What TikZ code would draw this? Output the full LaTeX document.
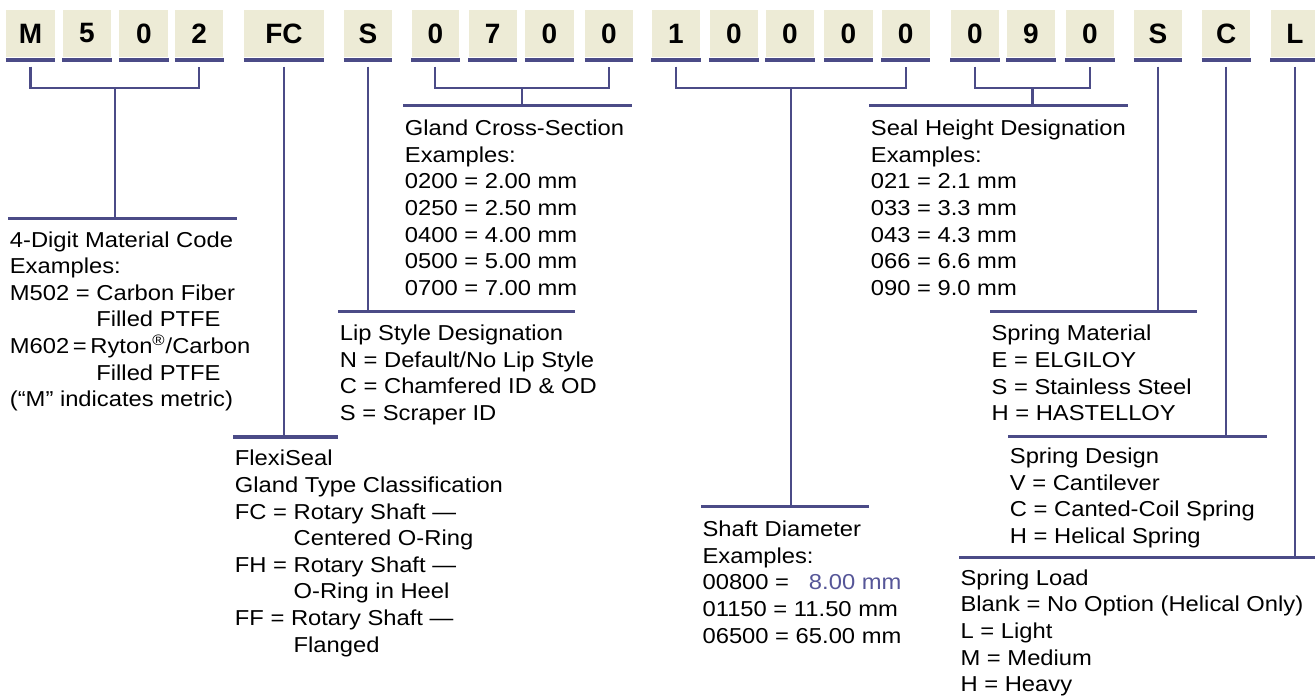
\documentclass[tikz,border=0pt]{standalone}
\usepackage{fontspec}
\setmainfont{Liberation Sans}[FakeStretch=1.1]
\newfontfamily\keyfont{Liberation Sans}
\usepackage{xcolor}
\usetikzlibrary{calc,positioning}
\definecolor{keyNavy}{RGB}{75,75,135}
\definecolor{keyViolet}{RGB}{86,86,152}
\definecolor{softSand}{RGB}{237,235,214}
\tikzset{
  digit/.style={fill=softSand,minimum height=23.4pt,inner sep=0pt,font=\keyfont\bfseries\fontsize{14}{16}\selectfont},
  underbar/.style={draw=keyNavy,line width=2.15pt},
  stem/.style={draw=keyNavy,line width=1.15pt},
  keybar/.style={draw=keyNavy,line width=1.6pt},
  legend/.style={align=left,inner sep=0pt,font=\fontsize{10.8}{13.3}\selectfont}
}

\begin{document}
\begin{tikzpicture}[x=0.5pt,y=-0.5pt]
\useasboundingbox (0,0) rectangle (1315,698);
\foreach \cx/\ch/\w [count=\i] in {30.5/M/24.4pt,86.9/5/24.2pt,143.8/0/24.4pt,199.2/2/24.2pt,284/FC/40pt,368/S/24pt,
  435.3/0/23.8pt,492.7/7/24.2pt,549.5/0/24.2pt,608.9/0/23.8pt,676/1/24.4pt,733.9/0/24.2pt,789.9/0/24.2pt,848.4/0/24.2pt,
  905.7/0/24.2pt,974.9/0/24.2pt,1030.9/9/24.2pt,1089.9/0/24.2pt,1157.9/S/23.9pt,1226.2/C/23.9pt,1295/L/24.2pt}{
  \node[digit,minimum width=\w] (b\i) at (\cx,33.4) {\ch};
  \draw[underbar] ($(b\i.south west)+(0,2.8)$) -- ($(b\i.south east)+(0,2.8)$);
}

\coordinate (matL) at (8.3,218.3); \coordinate (matR) at (236.7,218.3);
\coordinate (glandL) at (403.3,105.7); \coordinate (glandR) at (631.7,105.7);
\coordinate (sealL) at (869.3,105.7); \coordinate (sealR) at (1127.7,105.7);
\coordinate (lipL) at (338.3,311.7); \coordinate (lipR) at (574.6,311.7);
\coordinate (flexiL) at (233.3,437); \coordinate (flexiR) at (337.5,437);
\coordinate (shaftL) at (701,506.7); \coordinate (shaftR) at (869.3,506.7);
\coordinate (spmatL) at (990,311.7); \coordinate (spmatR) at (1196.7,311.7);
\coordinate (spdesL) at (1008.3,436.7); \coordinate (spdesR) at (1266.7,436.7);
\coordinate (sploadL) at (959,557.7); \coordinate (sploadR) at (1316,557.7);
\foreach \k in {mat,gland,seal,lip,flexi,shaft,spmat,spdes,spload}
  \draw[keybar] (\k L) -- (\k R);

\foreach \a/\b/\k in {1/4/mat,7/10/gland,11/15/shaft,16/18/seal}{
  \draw[stem] ($(b\a.south)+(0,9.3)$) |- ($(b\b.south)+(0,30.6)$) -- ($(b\b.south)+(0,9.3)$);
  \coordinate (top\k) at ($(b\a.south)!.5!(b\b.south)+(0,30.6)$);
  \draw[stem] (top\k) -- (top\k |- \k L);
}
\foreach \a/\k in {5/flexi,6/lip,19/spmat,20/spdes,21/spload}
  \draw[stem] ($(b\a.south)+(0,9.3)$) -- (b\a.south |- \k L);

\node[legend,below right=6.4pt and 0.6pt of matL] (material) {4-Digit Material Code\\Examples:\\M502 = Carbon Fiber\\\phantom{M502 = }Filled PTFE\\M602\,=\,Ryton\textsuperscript{®}/Carbon\\\phantom{M502 = }Filled PTFE\\(“M” indicates metric)};
\node[legend,below right=6.4pt and 0.6pt of flexiL] (flexiseal) {FlexiSeal\\Gland Type Classification\\FC = Rotary Shaft —\\\phantom{FC = }Centered O-Ring\\FH = Rotary Shaft —\\\phantom{FC = }O-Ring in Heel\\FF = Rotary Shaft —\\\phantom{FC = }Flanged};
\node[legend,below right=6.4pt and 0.6pt of lipL] (lipstyle) {Lip Style Designation\\N = Default/No Lip Style\\C = Chamfered ID \& OD\\S = Scraper ID};
\node[legend,below right=7pt and 0.6pt of glandL] (gland) {Gland Cross-Section\\Examples:\\0200 = 2.00 mm\\0250 = 2.50 mm\\0400 = 4.00 mm\\0500 = 5.00 mm\\0700 = 7.00 mm};
\node[legend,below right=7pt and 0.6pt of sealL] (sealheight) {Seal Height Designation\\Examples:\\021 = 2.1 mm\\033 = 3.3 mm\\043 = 4.3 mm\\066 = 6.6 mm\\090 = 9.0 mm};
\node[legend,below right=7pt and 0.6pt of shaftL] (shaft) {Shaft Diameter\\Examples:\\00800 = \phantom{1}\textcolor{keyViolet}{8.00 mm}\\01150 = 11.50 mm\\06500 = 65.00 mm};
\node[legend,below right=6.6pt and 0.6pt of spmatL] (springmat) {Spring Material\\E = ELGILOY\\S = Stainless Steel\\H = HASTELLOY};
\node[legend,below right=5.4pt and 0.6pt of spdesL] (springdesign) {Spring Design\\V = Cantilever\\C = Canted-Coil Spring\\H = Helical Spring};
\node[legend,below right=5.8pt and 0.6pt of sploadL] (springload) {Spring Load\\Blank = No Option (Helical Only)\\L = Light\\M = Medium\\H = Heavy};
\end{tikzpicture}
\end{document}
